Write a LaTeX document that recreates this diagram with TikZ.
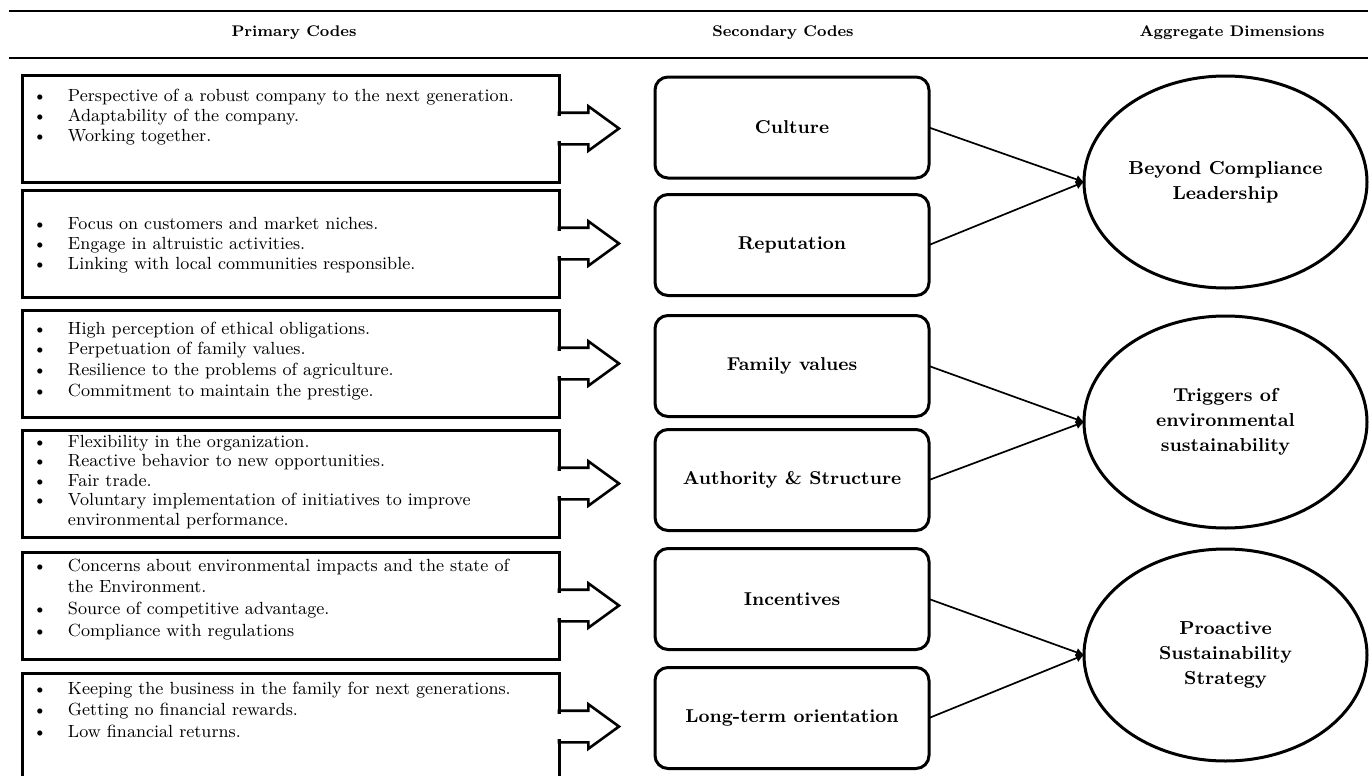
\documentclass[tikz,border=0pt]{standalone}
\usepackage{tikz}
\usetikzlibrary{arrows.meta, shapes.geometric, shapes.arrows}

\newdimen\px \px=0.5pt
% one bullet line of a primary code
\newcommand{\pitem}[1]{\par\hangindent=46\px\hangafter=1\noindent\hspace*{11\px}\makebox[35\px][l]{\textbullet}\strut#1}
% primary code box: first baseline, line skip, items
\newcommand{\plist}[3]{\parbox[c][107\px][t]{537\px}{\fontsize{8.8}{#2\px}\selectfont\raggedright\vspace*{\dimexpr#1\px-0.7\baselineskip\relax}#3}}

\tikzset{
  primbox/.style={draw, line width=1.5pt, inner sep=0pt, outer sep=0pt, anchor=north west},
  secbox/.style={draw, line width=1.5pt, rounded corners=6.5pt, minimum width=137pt, minimum height=50.5pt,
    outer sep=0pt, font=\fontsize{9.3}{11}\selectfont\bfseries},
  dimnode/.style={ellipse, draw, line width=1.5pt, minimum width=141.5pt, minimum height=106pt, inner sep=0pt,
    outer sep=0pt, align=center, font=\fontsize{9.4}{12.5}\selectfont\bfseries},
  blockarrow/.style={single arrow, draw, line width=1.3pt, inner xsep=0pt, inner ysep=7.25pt,
    single arrow head extend=3.25pt, single arrow tip angle=72, minimum height=30pt, outer sep=0pt, anchor=tail},
  conn/.style={line width=0.85pt, -{Latex[length=4pt,width=4.5pt]}},
  header/.style={font=\fontsize{7.7}{10}\selectfont\bfseries}
}

\begin{document}
\begin{tikzpicture}[x=0.5pt, y=-0.5pt]
  \useasboundingbox (0,0) rectangle (1372,776);
  \clip (0,0) rectangle (1372,776);

  % Column headers
  \draw[line width=1pt] (9,11) -- (1368,11);
  \draw[line width=1pt] (9,58) -- (1368,58);
  \node[header] (hprim) at (294,33) {Primary Codes};
  \node[header] (hsec) at (783,33) {Secondary Codes};
  \node[header] (hagg) at (1232,33) {Aggregate Dimensions};

  % Primary codes (left column)
  \node[primbox] (prim1) at (22,75) {\plist{26}{20.5}{%
    \pitem{Perspective of a robust company to the next generation.}
    \pitem{Adaptability of the company.}
    \pitem{Working together.}}};
  \node[primbox] (prim2) at (22,190) {\plist{39}{20}{%
    \pitem{Focus on customers and market niches.}
    \pitem{Engage in altruistic activities.}
    \pitem{Linking with local communities responsible.}}};
  \node[primbox] (prim3) at (22,310) {\plist{24}{20.7}{%
    \pitem{High perception of ethical obligations.}
    \pitem{Perpetuation of family values.}
    \pitem{Resilience to the problems of agriculture.}
    \pitem{Commitment to maintain the prestige.}}};
  \node[primbox] (prim4) at (22,430) {\plist{17}{19.5}{%
    \pitem{Flexibility in the organization.}
    \pitem{Reactive behavior to new opportunities.}
    \pitem{Fair trade.}
    \pitem{Voluntary implementation of initiatives to improve\newline environmental performance.}}};
  \node[primbox] (prim5) at (22,552) {\plist{19}{21.7}{%
    \pitem{Concerns about environmental impacts and the state of\newline the Environment.}
    \pitem{Source of competitive advantage.}
    \pitem{Compliance with regulations}}};
  \node[primbox] (prim6) at (22,673) {\plist{21}{21.5}{%
    \pitem{Keeping the business in the family for next generations.}
    \pitem{Getting no financial rewards.}
    \pitem{Low financial returns.}}};

  % Block arrows into the secondary codes
  \foreach \i in {1,...,6}{
    \node[blockarrow] (arr\i) at (prim\i.east) {};
    \fill[white] ([shift={(-2.5,-12.5)}]arr\i.tail) rectangle ([shift={(2.5,12.5)}]arr\i.tail);
  }

  % Secondary codes (middle column)
  \node[secbox] (sec1) at (792,127.5) {Culture};
  \node[secbox] (sec2) at (792,245) {Reputation};
  \node[secbox] (sec3) at (792,366) {Family values};
  \node[secbox] (sec4) at (792,480) {Authority \& Structure};
  \node[secbox] (sec5) at (792,599) {Incentives};
  \node[secbox] (sec6) at (792,718) {Long-term orientation};

  % Aggregate dimensions (right column)
  \node[dimnode] (dim1) at (1225.5,182) {Beyond Compliance\\Leadership};
  \node[dimnode] (dim2) at (1225.5,422) {Triggers of\\environmental\\sustainability};
  \node[dimnode] (dim3) at (1225.5,655) {Proactive\\Sustainability\\Strategy};

  % Links to the dimensions
  \foreach \s/\d in {1/1, 2/1, 3/2, 4/2, 5/3, 6/3}
    \draw[conn] (sec\s.east) -- (dim\d.west);
\end{tikzpicture}
\end{document}
